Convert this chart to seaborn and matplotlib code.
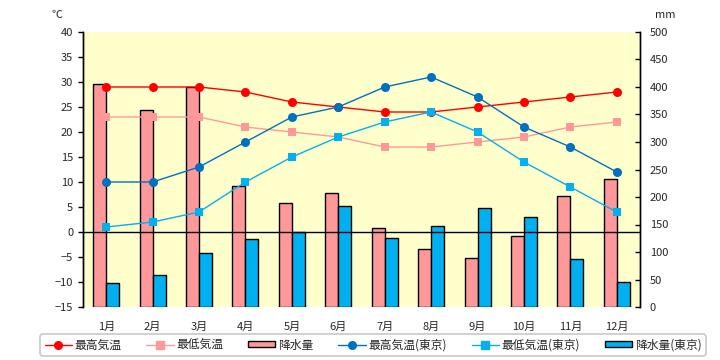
import matplotlib
matplotlib.use("Agg")
import matplotlib.pyplot as plt
import seaborn as sns
import pandas as pd
import numpy as np
from matplotlib.lines import Line2D
from matplotlib.patches import Patch

months = ["1月", "2月", "3月", "4月", "5月", "6月", "7月", "8月", "9月", "10月", "11月", "12月"]
max_temp = [29, 29, 29, 28, 26, 25, 24, 24, 25, 26, 27, 28]
min_temp = [23, 23, 23, 21, 20, 19, 17, 17, 18, 19, 21, 22]
precip = [405, 359, 400, 220, 190, 207, 143, 105, 90, 130, 201, 233]
tokyo_max = [10, 10, 13, 18, 23, 25, 29, 31, 27, 21, 17, 12]
tokyo_min = [1, 2, 4, 10, 15, 19, 22, 24, 20, 14, 9, 4]
tokyo_precip = [43, 59, 99, 123, 136, 184, 125, 147, 180, 164, 87, 45]

labels = ["最高気温", "最低気温", "降水量", "最高気温(東京)", "最低気温(東京)", "降水量(東京)"]

sns.set_theme(style="white")
plt.rcParams["font.family"] = ["Noto Sans CJK JP", "DejaVu Sans"]

fig = plt.figure(figsize=(7.2, 3.6), dpi=100)
ax = fig.add_axes([83/720, 1-307/360, (640-83)/720, (307-32)/360])
ax.set_facecolor("#FFFFCC")

# bars (precipitation) on bottom axes -> right scale
df_bar = pd.DataFrame({
    "month": months * 2,
    "mm": precip + tokyo_precip,
    "series": [labels[2]] * 12 + [labels[5]] * 12,
})
sns.barplot(data=df_bar, x="month", y="mm", hue="series", order=months,
            hue_order=[labels[2], labels[5]],
            palette=["#FF9999", "#00B0F0"], edgecolor="black", linewidth=1.0,
            width=0.56, gap=0, saturation=1, legend=False, ax=ax)
ax.set_ylim(0, 500)
ax.set_xlim(-0.5, 11.5)
ax.set_yticks(np.arange(0, 501, 50))
ax.set_xlabel("")
ax.set_ylabel("")

ax2 = ax.twinx()
ax2.patch.set_visible(False)
ax2.set_ylim(-15, 40)
ax2.set_yticks(np.arange(-15, 41, 5))
ax2.axhline(0, color="black", lw=1.0, zorder=1)

x = np.arange(12)
series = [
    (max_temp, "#FF0000", "o", 6.5),
    (min_temp, "#FF9999", "s", 6),
    (tokyo_max, "#0070C0", "o", 6.5),
    (tokyo_min, "#00B0F0", "s", 6),
]
for vals, c, m, ms in series:
    sns.lineplot(x=x, y=vals, color=c, marker=m, markersize=ms, markeredgewidth=0,
                 linewidth=1.0, sort=False, ax=ax2, legend=False)

for a in (ax, ax2):
    for s in ("top", "bottom"):
        a.spines[s].set_visible(False)
    a.spines["left"].set_color("black")
    a.spines["right"].set_color("black")
    a.spines["left"].set_linewidth(1.0)
    a.spines["right"].set_linewidth(1.0)

ax.tick_params(axis="y", left=False, labelleft=False, right=True, labelright=True,
               direction="in", length=3.6, width=1, color="black", labelsize=8, pad=7)
ax.tick_params(axis="x", bottom=False, labelsize=8, pad=5)
ax2.tick_params(axis="y", left=True, labelleft=True, right=False, labelright=False,
                direction="out", length=3.6, width=1, color="black", labelsize=8, pad=3.5)
ax2.set_ylabel("")

fig.text(57/720, 1-15/360, "℃", ha="center", va="center", fontsize=8)
fig.text(665/720, 1-15/360, "mm", ha="center", va="center", fontsize=8)

handles = [
    Line2D([0], [0], color="#FF0000", marker="o", markersize=5.5, lw=1),
    Line2D([0], [0], color="#FF9999", marker="s", markersize=5.5, lw=1),
    Patch(facecolor="#FF9999", edgecolor="black", linewidth=1),
    Line2D([0], [0], color="#0070C0", marker="o", markersize=5.5, lw=1),
    Line2D([0], [0], color="#00B0F0", marker="s", markersize=5.5, lw=1),
    Patch(facecolor="#00B0F0", edgecolor="black", linewidth=1),
]
leg = fig.legend(handles, labels, loc="center", bbox_to_anchor=(373/720, 1-345/360),
                 ncol=6, fontsize=8.5, frameon=True, fancybox=True,
                 handlelength=2.3, handleheight=0.45, handletextpad=0.2,
                 columnspacing=2.15, borderpad=0.35)
leg.get_frame().set_edgecolor("#BBBBBB")
leg.get_frame().set_linewidth(1.2)

fig.savefig("out.png", dpi=100, facecolor="white")
